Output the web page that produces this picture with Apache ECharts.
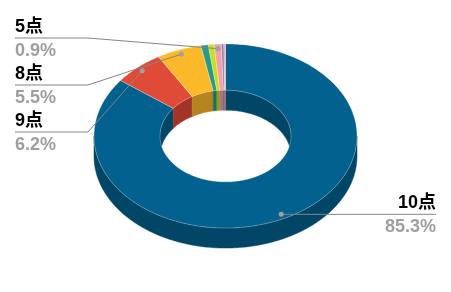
<!DOCTYPE html>
<html><head><meta charset="utf-8">
<script src="https://cdn.jsdelivr.net/npm/echarts@6/dist/echarts.min.js"></script>
<style>html,body{margin:0;padding:0;background:#fff}#c{width:451px;height:292px}</style>
</head><body><div id="c"></div>
<script>
// ---- data ----
const categories = ['10点', '9点', '8点', '7点', '6点', '5点', '4点', '3点'];
const values = [85.3, 6.2, 5.5, 0.9, 0.7, 0.9, 0.3, 0.2];
const labeledCategories = ['10点', '9点', '8点', '5点'];
const topColors = ['#02618e', '#e04b38', '#fbb829', '#2a9887', '#c5e017', '#f4a0a8', '#8b82a8', '#e6a3b0'];

// ---- layout / style constants ----
const CY = 136, R = 131.5, RI = 65.5, K = 0.7, DEPTH = 20, LABEL_R = 125;
const LEFT_X = 15, LEFT_BEND_X = 88, LEFT_TOP = 38, LEFT_GAP = 47, RIGHT_X = 436;
const FONT = 'bold 18px "Liberation Sans", Arial, "Noto Sans CJK SC", sans-serif';

function shade(hex, f) {
  const n = parseInt(hex.slice(1), 16);
  const r = Math.round(((n >> 16) & 255) * f), g = Math.round(((n >> 8) & 255) * f), b = Math.round((n & 255) * f);
  return 'rgb(' + r + ',' + g + ',' + b + ')';
}

const total = values.reduce((a, b) => a + b, 0);
let acc = 0;
const data = values.map((v, i) => { const s = acc; acc += v; return { name: categories[i], value: [v, s] }; });

// left-side label slot order (by mid angle, top first)
const leftOrder = data
  .map((d, i) => ({ i, mid: 2 * Math.PI * (d.value[1] + d.value[0] / 2) / total }))
  .filter(o => labeledCategories.includes(categories[o.i]) && Math.sin(o.mid) < 0)
  .sort((a, b) => Math.cos(b.mid) - Math.cos(a.mid))
  .map(o => o.i);

const chart = echarts.init(document.getElementById('c'), null, { renderer: 'canvas' });

function renderItem(params, api) {
  const idx = params.dataIndex;
  const v = api.value(0), s = api.value(1);
  const cx = api.getWidth() / 2;
  const a0 = 2 * Math.PI * s / total, a1 = 2 * Math.PI * (s + v) / total;
  const pt = (r, a, dy) => [cx + r * Math.sin(a), CY - K * r * Math.cos(a) + (dy || 0)];
  const arc = (r, b0, b1, dy) => {
    const n = Math.max(2, Math.ceil((b1 - b0) / (Math.PI / 180)));
    const out = [];
    for (let j = 0; j <= n; j++) out.push(pt(r, b0 + (b1 - b0) * j / n, dy));
    return out;
  };
  const col = topColors[idx];
  const side = shade(col, 0.72);
  const children = [];
  // inner far wall
  [[0, Math.PI / 2], [3 * Math.PI / 2, 2 * Math.PI]].forEach(([lo, hi]) => {
    const b0 = Math.max(a0, lo), b1 = Math.min(a1, hi);
    if (b1 > b0) {
      const top = arc(RI, b0, b1, 0), bot = arc(RI, b0, b1, DEPTH).reverse();
      children.push({ type: 'polygon', z2: 1, shape: { points: top.concat(bot) }, style: { fill: side, stroke: side, lineWidth: 0.5 } });
    }
  });
  // outer near wall
  {
    const b0 = Math.max(a0, Math.PI / 2), b1 = Math.min(a1, 3 * Math.PI / 2);
    if (b1 > b0) {
      const top = arc(R, b0, b1, 0), bot = arc(R, b0, b1, DEPTH).reverse();
      children.push({ type: 'polygon', z2: 2, shape: { points: top.concat(bot) }, style: { fill: side, stroke: side, lineWidth: 0.5 } });
    }
  }
  // top face
  const outer = arc(R, a0, a1, 0), inner = arc(RI, a0, a1, 0).reverse();
  children.push({ type: 'polygon', z2: 3, shape: { points: outer.concat(inner) }, style: { fill: col, stroke: 'rgba(255,255,255,0.35)', lineWidth: 0.8 } });

  // label
  const name = categories[idx];
  if (labeledCategories.includes(name)) {
    const mid = (a0 + a1) / 2;
    const d = pt(LABEL_R, mid, 0);
    let pts, tx, align, ly;
    if (Math.sin(mid) < 0) {
      const slot = leftOrder.indexOf(idx);
      ly = LEFT_TOP + LEFT_GAP * slot;
      pts = [d, [LEFT_BEND_X, ly], [LEFT_X, ly]];
      tx = LEFT_X; align = 'left';
    } else {
      ly = d[1];
      pts = [d, [RIGHT_X, ly]];
      tx = RIGHT_X; align = 'right';
    }
    children.push({ type: 'polyline', z2: 10, shape: { points: pts }, style: { stroke: '#858585', lineWidth: 1, fill: null } });
    children.push({ type: 'circle', z2: 11, shape: { cx: d[0], cy: d[1], r: 2.5 }, style: { fill: '#a0a0a0' } });
    children.push({ type: 'text', z2: 12, style: { text: name, x: tx, y: ly - 11, font: FONT, fill: '#000000', align: align, verticalAlign: 'middle' } });
    children.push({ type: 'text', z2: 12, style: { text: v.toFixed(1) + '%', x: tx, y: ly + 13, font: FONT, fill: '#9e9e9e', align: align, verticalAlign: 'middle' } });
  }
  return { type: 'group', children };
}

chart.setOption({
  animation: false,
  backgroundColor: '#ffffff',
  series: [{
    type: 'custom',
    coordinateSystem: 'none',
    renderItem: renderItem,
    data: data,
    silent: true
  }]
});
</script>
</body></html>
